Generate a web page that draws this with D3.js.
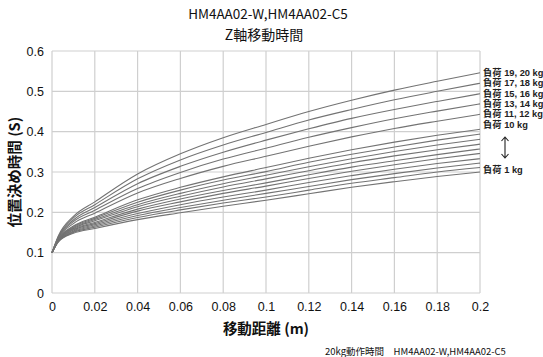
<!DOCTYPE html>
<html><head><meta charset="utf-8">
<script src="https://cdn.jsdelivr.net/npm/d3@7"></script>
<style>
html,body{margin:0;padding:0;background:#fff;}
svg{display:block;font-family:"Liberation Sans","Noto Sans CJK JP",sans-serif;}
</style></head>
<body><svg id="c" width="543" height="357"></svg>
<script>
// distance (m)
const distances = [0, 0.003, 0.01, 0.02, 0.04, 0.06, 0.08, 0.1, 0.12, 0.14, 0.16, 0.18, 0.2];
// positioning time (s) per load curve
const load1  = [0.100,0.127,0.148,0.160,0.182,0.199,0.215,0.230,0.246,0.262,0.276,0.289,0.300];
const load2  = [0.100,0.128,0.150,0.163,0.187,0.206,0.223,0.238,0.255,0.272,0.286,0.300,0.311];
const load3  = [0.100,0.128,0.152,0.166,0.192,0.212,0.230,0.247,0.264,0.281,0.296,0.310,0.322];
const load4  = [0.100,0.129,0.154,0.169,0.197,0.219,0.238,0.255,0.274,0.291,0.307,0.321,0.333];
const load5  = [0.100,0.130,0.156,0.172,0.203,0.226,0.247,0.265,0.284,0.302,0.318,0.333,0.346];
const load6  = [0.100,0.131,0.158,0.175,0.208,0.233,0.254,0.273,0.293,0.312,0.328,0.343,0.357];
const load7  = [0.100,0.131,0.160,0.179,0.214,0.240,0.263,0.283,0.303,0.323,0.340,0.355,0.369];
const load8  = [0.100,0.132,0.162,0.182,0.219,0.247,0.271,0.292,0.313,0.333,0.351,0.367,0.381];
const load9  = [0.100,0.133,0.164,0.185,0.225,0.255,0.280,0.301,0.324,0.344,0.362,0.379,0.394];
const load10 = [0.100,0.134,0.166,0.188,0.231,0.262,0.288,0.311,0.334,0.355,0.374,0.391,0.406];
const load11_12 = [0.100,0.136,0.172,0.198,0.248,0.284,0.314,0.339,0.364,0.387,0.408,0.426,0.443];
const load13_14 = [0.100,0.137,0.177,0.205,0.259,0.299,0.332,0.359,0.386,0.410,0.432,0.451,0.469];
const load15_16 = [0.100,0.139,0.181,0.212,0.271,0.314,0.349,0.379,0.407,0.433,0.455,0.475,0.494];
const load17_18 = [0.100,0.140,0.186,0.219,0.283,0.330,0.367,0.398,0.429,0.455,0.479,0.500,0.520];
const load19_20 = [0.100,0.142,0.190,0.226,0.295,0.345,0.385,0.418,0.450,0.478,0.503,0.525,0.546];
const seriesList = [load1,load2,load3,load4,load5,load6,load7,load8,load9,load10,load11_12,load13_14,load15_16,load17_18,load19_20];

const xTicks = [0,0.02,0.04,0.06,0.08,0.1,0.12,0.14,0.16,0.18,0.2];
const yTicks = [0,0.1,0.2,0.3,0.4,0.5,0.6];
const loadLabels = ["負荷 19, 20 kg","負荷 17, 18 kg","負荷 15, 16 kg","負荷 13, 14 kg","負荷 11, 12 kg","負荷 10 kg"];
const loadLabelBottom = "負荷 1 kg";

const svg = d3.select("#c");
const L=52, R=480, T=51, B=293;
const x = d3.scaleLinear().domain([0,0.2]).range([L,R]);
const y = d3.scaleLinear().domain([0,0.6]).range([B,T]);
const fmt = d3.format("~g");

// grid
const g = svg.append("g");
g.selectAll(".vx").data(xTicks).join("line")
  .attr("x1",d=>x(d)).attr("x2",d=>x(d)).attr("y1",T).attr("y2",B)
  .attr("stroke","#cfcfcf").attr("stroke-width",1.2);
g.selectAll(".hy").data(yTicks).join("line")
  .attr("y1",d=>y(d)).attr("y2",d=>y(d)).attr("x1",L).attr("x2",R)
  .attr("stroke","#cfcfcf").attr("stroke-width",1.2);

// axes labels via d3 axes
const xAxis = svg.append("g").attr("transform",`translate(0,${B})`)
  .call(d3.axisBottom(x).tickValues(xTicks).tickFormat(fmt).tickSize(0).tickPadding(9));
const yAxis = svg.append("g").attr("transform",`translate(${L},0)`)
  .call(d3.axisLeft(y).tickValues(yTicks).tickFormat(fmt).tickSize(0).tickPadding(8));
[xAxis,yAxis].forEach(a=>{
  a.select(".domain").remove();
  a.selectAll("text").attr("font-size",12.5).attr("fill","#111")
   .attr("font-family","'Liberation Sans','Noto Sans CJK JP',sans-serif");
});

// curves
const line = d3.line().x((d,i)=>x(distances[i])).y(d=>y(d)).curve(d3.curveMonotoneX);
svg.append("g").selectAll("path").data(seriesList).join("path")
  .attr("d",line).attr("fill","none").attr("stroke","#737373").attr("stroke-width",1.1);

// titles
svg.append("text").attr("x",268).attr("y",19).attr("text-anchor","middle")
  .attr("font-size",13.5).attr("fill","#111").attr("font-family","'Noto Sans CJK JP',sans-serif").text("HM4AA02-W,HM4AA02-C5");
svg.append("text").attr("x",264).attr("y",40).attr("text-anchor","middle")
  .attr("font-size",14).attr("fill","#111").attr("font-family","'Noto Sans CJK JP',sans-serif").text("Z軸移動時間");
svg.append("text").attr("transform","translate(20,172) rotate(-90)").attr("text-anchor","middle")
  .attr("font-size",14.5).attr("font-weight","bold").attr("fill","#111").attr("font-family","'Noto Sans CJK JP',sans-serif").text("位置決め時間 (S)");
svg.append("text").attr("x",266).attr("y",334).attr("text-anchor","middle")
  .attr("font-size",14.5).attr("font-weight","bold").attr("fill","#111").attr("font-family","'Noto Sans CJK JP',sans-serif").text("移動距離 (m)");
svg.append("text").attr("x",325).attr("y",355)
  .attr("font-size",9.5).attr("fill","#111").attr("font-family","'Noto Sans CJK JP',sans-serif").text("20kg動作時間　HM4AA02-W,HM4AA02-C5");

// load labels
const lg = svg.append("g").attr("font-family","'Liberation Sans','Noto Sans CJK JP',sans-serif").attr("font-size",9.3).attr("font-weight","bold").attr("fill","#222");
lg.selectAll("text").data(loadLabels).join("text")
  .attr("x",483).attr("y",(d,i)=>76+i*10.3).text(d=>d);
lg.append("text").attr("x",483).attr("y",173).text(loadLabelBottom);
// double arrow
const ax=505, ay1=137, ay2=158;
svg.append("path").attr("d",`M${ax},${ay1} L${ax},${ay2} M${ax-3.5},${ay1+4} L${ax},${ay1} L${ax+3.5},${ay1+4} M${ax-3.5},${ay2-4} L${ax},${ay2} L${ax+3.5},${ay2-4}`)
  .attr("fill","none").attr("stroke","#222").attr("stroke-width",1.1);
</script></body></html>
